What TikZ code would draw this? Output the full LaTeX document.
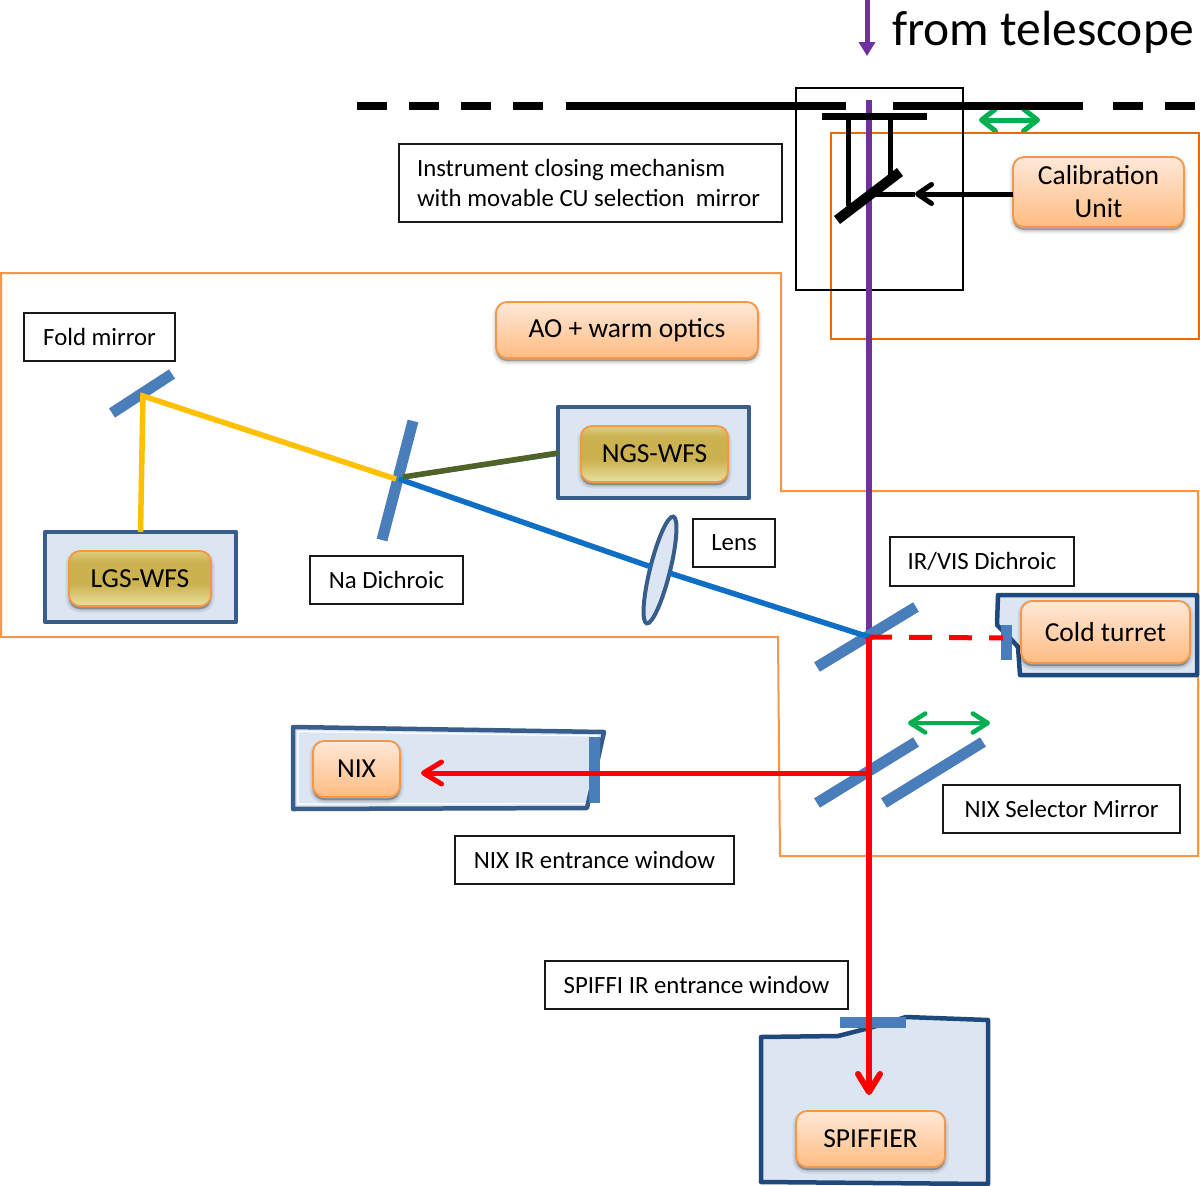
\documentclass[tikz,border=0pt]{standalone}
\usepackage{fontspec}
\setmainfont{Carlito}
\usetikzlibrary{arrows.meta,shapes.geometric,shadings}
\definecolor{lineor}{HTML}{F79646}
\definecolor{cuor}{HTML}{E46C0A}
\definecolor{contf}{HTML}{DCE6F2}
\definecolor{contb}{HTML}{1F497D}
\definecolor{contc}{HTML}{385D8A}
\definecolor{mirr}{HTML}{4A7EBB}
\definecolor{purp}{HTML}{7030A0}
\definecolor{bluer}{HTML}{0F6FC6}
\definecolor{greenr}{HTML}{4F6228}
\definecolor{yellr}{HTML}{FFC000}
\definecolor{redr}{HTML}{FF0000}
\definecolor{movg}{HTML}{00B050}
\pgfdeclareverticalshading{orangeshade}{100bp}{color(0bp)=(rgb,255:red,255;green,188;blue,130);color(25bp)=(rgb,255:red,255;green,188;blue,130);color(75bp)=(rgb,255:red,255;green,232;blue,216);color(100bp)=(rgb,255:red,255;green,232;blue,216)}
\pgfdeclareverticalshading{goldshade}{100bp}{color(0bp)=(rgb,255:red,232;green,224;blue,160);color(25bp)=(rgb,255:red,232;green,224;blue,160);color(45bp)=(rgb,255:red,203;green,177;blue,80);color(65bp)=(rgb,255:red,203;green,177;blue,80);color(75bp)=(rgb,255:red,222;green,204;blue,126);color(100bp)=(rgb,255:red,222;green,204;blue,126)}
\tikzset{
  x=1pt,y=-1pt,
  every node/.style={font=\fontsize{24.8}{32}\selectfont,text=black,inner sep=0pt,outer sep=0pt},
  labelbox/.style={draw=black!90,line width=1.6pt,fill=white},
  softshadow/.style={
    preaction={draw=black,fill=black,draw opacity=.07,fill opacity=.07,line width=7pt,transform canvas={yshift=-3pt}},
    preaction={draw=black,fill=black,draw opacity=.10,fill opacity=.10,line width=3pt,transform canvas={yshift=-3pt}},
    preaction={fill=black,fill opacity=.12,transform canvas={yshift=-3pt}}},
  unitbox/.style={draw=lineor,line width=1.8pt,rounded corners=11pt,softshadow,shading=orangeshade,font=\fontsize{27.5}{33}\selectfont},
  goldbox/.style={unitbox,shading=goldshade},
  container/.style={draw=contc,line width=4.5pt,fill=contf,line join=round},
  instbox/.style={draw=contb,line width=4.5pt,fill=contf,line join=round},
  region/.style={draw=lineor,line width=2pt,line join=miter},
  mirror/.style={draw=mirr,line width=11pt},
  blackm/.style={draw=black,line width=10pt},
  window/.style={fill=mirr,draw=none},
  beamb/.style={draw=bluer,line width=5.5pt},
  beamg/.style={draw=greenr,line width=5.5pt},
  beamy/.style={draw=yellr,line width=5.5pt,line join=miter},
  beamr/.style={draw=redr,line width=6pt},
  shutter/.style={draw=black,line width=8pt},
  barbr/.style={-{Straight Barb[length=18pt,width=22pt,round]}},
  barbk/.style={-{Straight Barb[length=14pt,width=19pt,round]}},
  movable/.style={draw=movg,line width=4.5pt,{Straight Barb[length=15pt,width=19pt,round]}-{Straight Barb[length=15pt,width=19pt,round]}},
  movabletop/.style={draw=movg,line width=5pt,{Straight Barb[length=14pt,width=22pt,round]}-{Straight Barb[length=14pt,width=22pt,round]}},
}
\begin{document}
\begin{tikzpicture}
\useasboundingbox (0,0) rectangle (1200,1186);
% key points
\coordinate (irvis) at (869,637);
\coordinate (nadi) at (399,479);
\coordinate (fold) at (143,396);
\coordinate (nixm) at (869,773);
\coordinate (nixtip) at (421,773);
\coordinate (spftip) at (869,1095);
\coordinate (scope) at (869,100);
\coordinate (coldw) at (1003,638);
\coordinate (cumirror) at (875,194);
\coordinate (cumid) at (915,194);
% warm optics region
\path[region,fill=white] (1,273) -- (781,273) -- (781,491) -- (1198,491) -- (1198,856) -- (780,856) -- (778,637) -- (1,637) -- cycle;
% movable arrow of shutter, cut by the unit frame and the shutter line
\draw[movabletop] (979,120) coordinate (ma) -- (1040,120) coordinate (mb);
% calibration frame
\node[draw=cuor,line width=2pt,fill=white,minimum width=368pt,minimum height=206pt] (cuframe) at (1015,236) {};
\node[draw=black,line width=2pt,minimum width=167pt,minimum height=202pt] (closing) at (879.5,189) {};
% shutter line
\foreach \a/\b in {357/387,409/439,461/491,513/543,566/846,893/1083,1113/1143,1165/1195}
  \draw[shutter] (\a,106) -- (\b,106);
% containers
\node[container,minimum width=191pt,minimum height=91pt] (ngsbox) at (653.5,452.5) {};
\node[container,minimum width=191pt,minimum height=90pt] (lgsbox) at (140.5,577) {};
\draw[instbox] (998,595) -- (1197,595) -- (1197,675) -- (1020,675) -- (1018,647) -- (1010,638) -- (997,625) -- cycle;
\draw[instbox,draw=contc] (293,727) -- (604,732) -- (587,808) -- (293,809) -- cycle;
\draw[draw=white,line width=1.2pt] (598,736) -- (298,731.5) -- (298,804) -- (585,803.5);
\draw[instbox] (761,1037) -- (838,1036) -- (873,1027) -- (906,1017) -- (988,1020) -- (988,1184) -- (761,1182) -- cycle;
% label boxes
\node[labelbox,minimum height=78pt,text width=347pt,inner xsep=18pt,align=flush left] (closelab) at (590.5,183) {Instrument closing mechanism\\[-2.5pt]with movable CU selection\ \ mirror};
\node[labelbox,minimum width=151pt,minimum height=48pt] (foldlab) at (99.5,337) {Fold mirror};
\node[labelbox,minimum width=153pt,minimum height=48pt] (nalab) at (386.5,580) {Na Dichroic};
\node[labelbox,minimum width=82pt,minimum height=48pt] (lenslab) at (734,543) {Lens};
\node[labelbox,minimum width=184pt,minimum height=49pt] (irlab) at (982,561.5) {IR/VIS Dichroic};
\node[labelbox,minimum width=237pt,minimum height=48pt] (sellab) at (1061.5,809) {NIX Selector Mirror};
\node[labelbox,minimum width=279pt,minimum height=48pt] (nixlab) at (594.5,860) {NIX IR entrance window};
\node[labelbox,minimum width=303pt,minimum height=48pt] (spflab) at (696.5,985) {SPIFFI IR entrance window};
% units
\node[unitbox,minimum width=171pt,minimum height=70pt,align=center] (cal) at (1098.5,192) {Calibration\\Unit};
\node[unitbox,minimum width=262pt,minimum height=56pt] (ao) at (627,330) {\raisebox{-1.5pt}{AO + warm optics}};
\node[goldbox,minimum width=147pt,minimum height=56pt] (ngs) at (654.5,454) {\raisebox{-1pt}{NGS-WFS}};
\node[goldbox,minimum width=142pt,minimum height=55pt] (lgs) at (140,578.5) {\raisebox{-1pt}{LGS-WFS}};
\node[unitbox,minimum width=169pt,minimum height=62pt] (cold) at (1105.5,632) {\raisebox{-1pt}{Cold turret}};
\node[unitbox,minimum width=87pt,minimum height=56pt] (nix) at (356.5,769) {NIX};
\node[unitbox,minimum width=149pt,minimum height=56pt] (spf) at (870.5,1139) {\raisebox{-1.5pt}{SPIFFIER}};
% purple beam
\draw[draw=purp,line width=6pt] (scope) -- (irvis);
\coordinate (arrtop) at (867,0);
\coordinate (arrend) at (867,56);
\draw[draw=purp,line width=5pt,-{Triangle[length=14pt,width=16pt]}] (arrtop) -- (arrend);
\node[anchor=base west,font=\fontsize{49.5}{52}\selectfont] (fromlab) at (892,45) {from telescope};
% mirrors
\draw[mirror] (916,607) -- (817,667);
\draw[mirror] (916,742) -- (817,803);
\draw[mirror] (983,742) -- (884,803);
\draw[mirror] (413,421) -- (382,540);
\draw[mirror] (172,374) -- (112,413);
\fill[window] (1001,625) rectangle (1012,660);
\fill[window] (589,737) rectangle (600,803);
\fill[window] (840,1017) rectangle (906,1028);
% mechanism
\draw[draw=black,line width=7pt] (822,116) coordinate (bl) -- (927,116) coordinate (br);
\draw[draw=black,line width=5pt] (848,116) -- (848,206);
\draw[draw=black,line width=5pt] (890,116) -- (890,176);
\draw[blackm] (837,220) coordinate (ma1) -- (900,172) coordinate (ma2);
\draw[draw=black,line width=5pt,barbk] (cal.west |- cumid) -- (cumid);
\draw[draw=black,line width=5pt] (cumid) -- (cumirror);
% lens
\node[draw=contc,line width=4pt,fill=contf,ellipse,minimum width=20pt,minimum height=110pt,rotate=-14] (lens) at (660,570) {};
% beams
\draw[beamb] (irvis) -- (lens);
\draw[beamb] (lens) -- (nadi);
\draw[draw=bluer,line width=2pt] (nadi) -- (ngsbox.west |- 558,455);
\draw[beamg] (403,477) -- (ngsbox.west |- 558,453);
\draw[beamy] (lgsbox.north) -- (fold) -- (396,479);
\draw[draw=redr,line width=5pt,dash pattern=on 23pt off 17pt] (irvis) -- (coldw);
\draw[beamr,barbr] (irvis) -- (spftip);
\draw[draw=redr,line width=5pt,barbr] (nixm) -- (nixtip);
\draw[movable] (908,723) coordinate (mc) -- (990,723) coordinate (md);
\end{tikzpicture}
\end{document}
